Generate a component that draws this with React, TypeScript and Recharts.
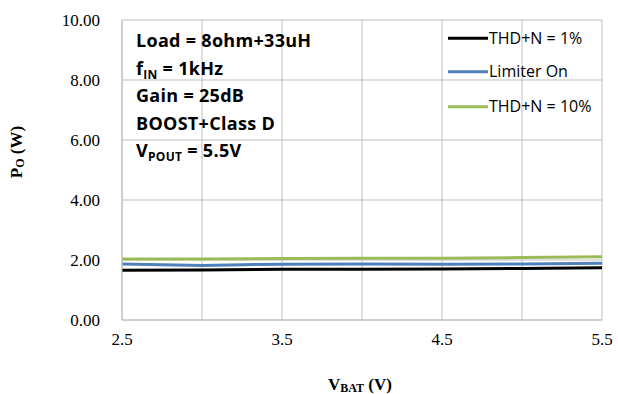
import React from 'react';
import { LineChart, Line, XAxis, YAxis, CartesianGrid, Customized } from 'recharts';

const vbat = [2.5, 3.0, 3.5, 4.0, 4.5, 5.0, 5.5];
const thd1 = [1.66, 1.67, 1.69, 1.69, 1.70, 1.72, 1.74];
const limiterOn = [1.87, 1.82, 1.86, 1.87, 1.86, 1.87, 1.89];
const thd10 = [2.03, 2.03, 2.05, 2.06, 2.06, 2.08, 2.11];

const xTicks = [2.5, 3.0, 3.5, 4.0, 4.5, 5.0, 5.5];
const xLabelled = [2.5, 3.5, 4.5, 5.5];
const yTicks = [0, 2, 4, 6, 8, 10];

const seriesNames = ['THD+N = 1%', 'Limiter On', 'THD+N = 10%'];
const seriesKeys = ['thd1', 'lim', 'thd10'];
const seriesColors = ['#000000', '#4F81BD', '#9BBB59'];

const data = vbat.map((v, i) => ({ vbat: v, thd1: thd1[i], lim: limiterOn[i], thd10: thd10[i] }));

const GRID = '#BFBFBF';
const SERIF = '"Liberation Serif", "Times New Roman", serif';
const SANS = '"Open Sans", Lato, sans-serif';

const legendRows = [38.3, 71.7, 106.7];

const Annotations = () => (
  <g>
    <g fontFamily={SANS} fontSize={16} fill="#000">
      {seriesNames.map((n, i) => (
        <g key={n}>
          <line x1={448} x2={488} y1={legendRows[i]} y2={legendRows[i]} stroke={seriesColors[i]} strokeWidth={3} />
          <text x={489} y={legendRows[i] + 5.5}>{n}</text>
        </g>
      ))}
    </g>
    <g fontFamily={SANS} fontWeight="bold" fontSize={18} letterSpacing={0.3} fill="#000">
      <text x={136} y={47}>Load = 8ohm+33uH</text>
      <text x={136} y={75}>
        f<tspan fontSize={12} dy={4}>IN</tspan>
        <tspan dy={-4}> = 1kHz</tspan>
      </text>
      <text x={136} y={102}>Gain = 25dB</text>
      <text x={136} y={130}>BOOST+Class D</text>
      <text x={136} y={157}>
        V<tspan fontSize={12} dy={4}>POUT</tspan>
        <tspan dy={-4}> = 5.5V</tspan>
      </text>
    </g>
    <g fontFamily={SERIF} fontWeight="bold" fontSize={17} fill="#000">
      <text x={360} y={390} textAnchor="middle">
        V<tspan fontSize={12} dy={2}>BAT</tspan>
        <tspan dy={-2}> (V)</tspan>
      </text>
      <text x={22} y={152} textAnchor="middle" transform="rotate(-90 22 152)">
        P<tspan fontSize={12} dy={2}>O</tspan>
        <tspan dy={-2}> (W)</tspan>
      </text>
    </g>
  </g>
);

export default function App() {
  return (
    <div style={{ position: 'absolute', left: 0, top: 0, width: 618, height: 394, background: '#fff' }}>
      <LineChart width={618} height={394} data={data} margin={{ top: 20, right: 16, bottom: 0, left: 0 }}>
        <CartesianGrid stroke={GRID} strokeWidth={1} />
        <XAxis
          dataKey="vbat"
          type="number"
          domain={[2.5, 5.5]}
          ticks={xTicks}
          interval={0}
          tickFormatter={(v: number) => (xLabelled.includes(v) ? v.toFixed(1) : '')}
          height={74}
          tickLine={false}
          tickSize={0}
          tickMargin={13}
          axisLine={{ stroke: GRID }}
          tick={{ fontFamily: SERIF, fontSize: 17, fill: '#000' }}
        />
        <YAxis
          type="number"
          domain={[0, 10]}
          ticks={yTicks}
          interval={0}
          tickFormatter={(v: number) => v.toFixed(2)}
          width={122}
          tickLine={false}
          tickSize={0}
          tickMargin={22}
          axisLine={{ stroke: GRID }}
          tick={{ fontFamily: SERIF, fontSize: 17, fill: '#000' }}
        />
        {seriesKeys.map((k, i) => (
          <Line
            key={k}
            dataKey={k}
            name={seriesNames[i]}
            stroke={seriesColors[i]}
            strokeWidth={3}
            dot={false}
            isAnimationActive={false}
          />
        ))}
        <Customized component={Annotations} />
      </LineChart>
    </div>
  );
}
